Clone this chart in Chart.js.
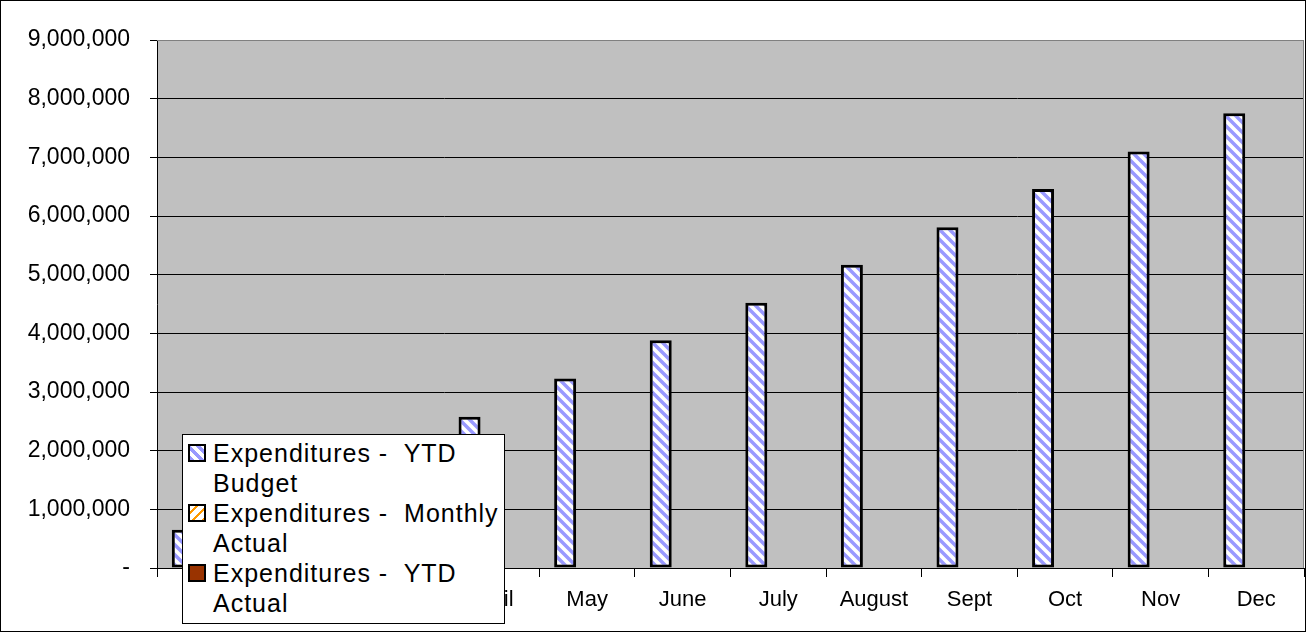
<!DOCTYPE html>
<html>
<head>
<meta charset="utf-8">
<script src="https://cdn.jsdelivr.net/npm/chart.js@4.4.0/dist/chart.umd.min.js"></script>
<style>
  html, body { margin: 0; padding: 0; background: #fff; }
  #wrap { position: relative; width: 1306px; height: 632px; }
  #legend {
    position: absolute; left: 182px; top: 434px; width: 323px; height: 190px;
    box-sizing: border-box; background: #fff; border: 1px solid #000;
    font-family: "Liberation Sans", Arial, sans-serif; font-size: 25px; line-height: 30px;
    letter-spacing: 1px; color: #000; padding-top: 3px;
  }
  .item { position: relative; padding-left: 30px; white-space: pre; }
  .sw { position: absolute; left: 5px; top: 6px; width: 18px; height: 18px; box-sizing: border-box; border: 2px solid #000; }
  .sw.budget { background: repeating-linear-gradient(45deg, #9999ff 0 3px, #fff 3px 7px); }
  .sw.monthly { background: repeating-linear-gradient(-45deg, #ff9900 0 2px, #fff 2px 7px); }
  .sw.ytd { background: #993300; }
</style>
</head>
<body>
<div id="wrap">
  <canvas id="chart" width="1306" height="632"></canvas>
  <div id="legend">
    <div class="item"><span class="sw budget"></span>Expenditures -  YTD
Budget</div>
    <div class="item"><span class="sw monthly"></span>Expenditures -  Monthly
Actual</div>
    <div class="item"><span class="sw ytd"></span>Expenditures -  YTD
Actual</div>
  </div>
</div>
<script>
  // months along the x axis (first ones sit under the legend)
  const months = ['Jan', 'Feb', 'March', 'April', 'May', 'June', 'July', 'August', 'Sept', 'Oct', 'Nov', 'Dec'];
  // YTD budget
  const ytdBudget = [650000, 1290000, 1940000, 2580000, 3230000, 3880000, 4520000, 5170000, 5810000, 6460000, 7100000, 7750000];
  // actuals have no bars drawn yet
  const monthlyActual = [null, null, null, null, null, null, null, null, null, null, null, null];
  const ytdActual = [null, null, null, null, null, null, null, null, null, null, null, null];
  const yTicks = [0, 1000000, 2000000, 3000000, 4000000, 5000000, 6000000, 7000000, 8000000, 9000000];

  function stripes(color, bg) {
    const n = 10;
    const c = document.createElement('canvas');
    c.width = n; c.height = n;
    const g = c.getContext('2d');
    g.fillStyle = bg; g.fillRect(0, 0, n, n);
    g.strokeStyle = color; g.lineWidth = 3.5;
    g.beginPath();
    [-n, 0, n].forEach((o) => { g.moveTo(o - 2, -2); g.lineTo(o + n + 2, n + 2); });
    g.stroke();
    return g.createPattern(c, 'repeat');
  }

  const plotFrame = {
    id: 'plotFrame',
    beforeDraw(chart) {
      const a = chart.chartArea, ctx = chart.ctx;
      ctx.save();
      ctx.fillStyle = '#c0c0c0';
      ctx.fillRect(a.left, a.top, a.right - a.left, a.bottom - a.top);
      ctx.restore();
    },
    beforeDatasetsDraw(chart) {
      const a = chart.chartArea, ctx = chart.ctx;
      ctx.save();
      ctx.strokeStyle = '#808080'; ctx.lineWidth = 1;
      ctx.beginPath();
      ctx.moveTo(a.left, a.top + 0.5); ctx.lineTo(a.right - 0.5, a.top + 0.5); ctx.lineTo(a.right - 0.5, a.bottom);
      ctx.stroke();
      ctx.restore();
    },
    afterDraw(chart) {
      const ctx = chart.ctx;
      ctx.save();
      ctx.strokeStyle = '#000'; ctx.lineWidth = 1;
      ctx.strokeRect(0.5, 0.5, chart.width - 1, chart.height - 1);
      ctx.restore();
    },
  };

  const font = { family: '"Liberation Sans", Arial, sans-serif' };

  new Chart(document.getElementById('chart'), {
    type: 'bar',
    data: {
      labels: months,
      datasets: [
        { label: 'Expenditures -  YTD Budget', data: ytdBudget, backgroundColor: stripes('#9999ff', '#fff'), borderColor: '#000', borderWidth: 3, borderSkipped: false },
        { label: 'Expenditures -  Monthly Actual', data: monthlyActual, backgroundColor: stripes('#ff9900', '#fff'), borderColor: '#000', borderWidth: 3 },
        { label: 'Expenditures -  YTD Actual', data: ytdActual, backgroundColor: '#993300', borderColor: '#000', borderWidth: 3 },
      ],
    },
    options: {
      responsive: false,
      animation: false,
      barPercentage: 1,
      categoryPercentage: 0.69,
      layout: { padding: { top: 40, right: 2, left: 0, bottom: 0 } },
      plugins: { legend: { display: false }, tooltip: { enabled: false } },
      scales: {
        x: {
          grid: { offset: true, drawOnChartArea: false, drawTicks: true, tickLength: 9, color: '#000' },
          border: { color: '#000', width: 1 },
          ticks: { color: '#000', font: { ...font, size: 22 }, padding: 10, maxRotation: 0, autoSkip: false },
          afterFit: (s) => { s.height = 64; },
        },
        y: {
          min: 0,
          max: 9000000,
          afterBuildTicks: (s) => { s.ticks = yTicks.map((v) => ({ value: v })); },
          grid: { color: (ctx) => (ctx.tick && ctx.tick.value === 9000000 ? '#808080' : '#000'), tickColor: '#000', tickLength: 7 },
          border: { color: '#000', width: 1 },
          ticks: { color: '#000', font: { ...font, size: 23 }, padding: 20, callback: (v) => (v === 0 ? '-' : v.toLocaleString('en-US')) },
          afterFit: (s) => { s.width = 157; },
        },
      },
    },
    plugins: [plotFrame],
  });
</script>
</body>
</html>
